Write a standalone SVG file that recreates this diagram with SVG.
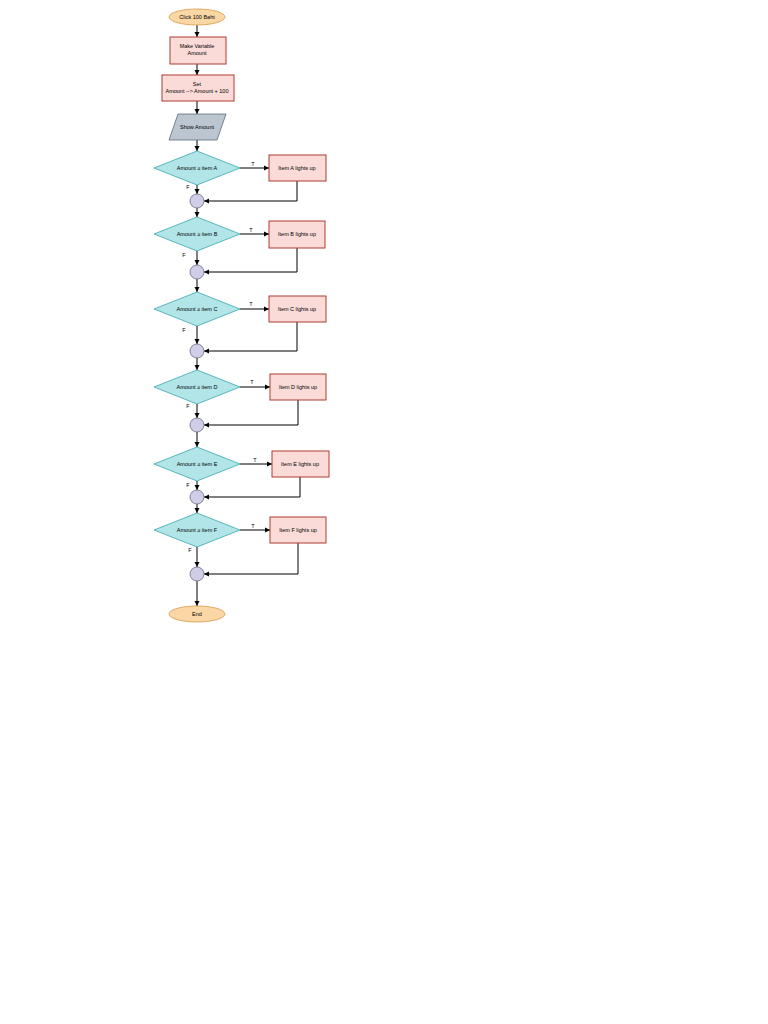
<svg xmlns="http://www.w3.org/2000/svg" width="768" height="1024" viewBox="0 0 768 1024">
<style>
text{font-family:"Liberation Sans",Arial,sans-serif;font-size:5.5px;fill:#000;text-anchor:middle}
.term{fill:#fbd7a6;stroke:#d79b4a;stroke-width:0.8}
.proc{fill:#fadbd8;stroke:#b03a2e;stroke-width:1}
.dec{fill:#b2e5e8;stroke:#3aa6ae;stroke-width:0.8}
.io{fill:#bcc6d1;stroke:#5b6b7c;stroke-width:0.8}
.jn{fill:#d0cde6;stroke:#6a6a8a;stroke-width:0.8}
.c{fill:none;stroke:#000;stroke-width:1;marker-end:url(#a)}
</style>
<defs><marker id="a" markerWidth="6" markerHeight="6" refX="5" refY="3" orient="auto" markerUnits="userSpaceOnUse"><path d="M0,0.5 L5,3 L0,5.5 z" fill="#000"/></marker></defs>
<rect width="768" height="1024" fill="#fff"/>
<g id="connectors">
<path class="c" d="M197,25 V37"/><path class="c" d="M197,64 V75"/><path class="c" d="M197,101 V114"/><path class="c" d="M197,140 V151"/>
<path class="c" d="M240,168 H269"/><path class="c" d="M197,185 V194"/><path class="c" d="M297,181 V201 H204"/><path class="c" d="M197,208 V217"/>
<path class="c" d="M240,234 H269"/><path class="c" d="M197,251 V265"/><path class="c" d="M297,248 V272 H204"/><path class="c" d="M197,279 V292"/>
<path class="c" d="M240,309 H269"/><path class="c" d="M197,326 V344"/><path class="c" d="M297,322 V351 H204"/><path class="c" d="M197,358 V370"/>
<path class="c" d="M240,387 H270"/><path class="c" d="M197,404 V418"/><path class="c" d="M298,400 V425 H204"/><path class="c" d="M197,432 V447"/>
<path class="c" d="M240,464 H272"/><path class="c" d="M197,481 V490"/><path class="c" d="M300,477 V497 H204"/><path class="c" d="M197,504 V513"/>
<path class="c" d="M240,530 H270"/><path class="c" d="M197,547 V567"/><path class="c" d="M298,543 V574 H204"/><path class="c" d="M197,581 V606"/>
<text x="253" y="166">T</text><text x="188" y="189">F</text>
<text x="251" y="232">T</text><text x="184" y="257">F</text>
<text x="251" y="306">T</text><text x="184" y="332">F</text>
<text x="252" y="384">T</text><text x="188" y="408">F</text>
<text x="255" y="462">T</text><text x="188" y="487">F</text>
<text x="253" y="528">T</text><text x="190" y="552">F</text>
</g>
<g id="start"><ellipse class="term" cx="197" cy="17" rx="28" ry="8"/><text x="197" y="19">Click 100 Baht</text></g>
<g id="makevar"><rect class="proc" x="170" y="37" width="56" height="27"/><text x="197" y="48">Make Variable</text><text x="197" y="55">Amount</text></g>
<g id="set"><rect class="proc" x="162" y="75" width="72" height="26"/><text x="197" y="86">Set</text><text x="197" y="93">Amount --&gt; Amount + 100</text></g>
<g id="show"><polygon class="io" points="178,114 226,114 217,140 169,140"/><text x="197" y="129">Show Amount</text></g>
<g id="decA"><polygon class="dec" points="197,151 240,168 197,185 154,168"/><text x="197" y="170">Amount ≥ item A</text></g>
<g id="boxA"><rect class="proc" x="269" y="155" width="57" height="26"/><text x="297" y="170">Item A lights up</text></g>
<g id="jA"><circle class="jn" cx="197" cy="201" r="7"/></g>
<g id="decB"><polygon class="dec" points="197,217 240,234 197,251 154,234"/><text x="197" y="236">Amount ≥ item B</text></g>
<g id="boxB"><rect class="proc" x="269" y="221" width="56" height="27"/><text x="297" y="236">Item B lights up</text></g>
<g id="jB"><circle class="jn" cx="197" cy="272" r="7"/></g>
<g id="decC"><polygon class="dec" points="197,292 240,309 197,326 154,309"/><text x="197" y="311">Amount ≥ item C</text></g>
<g id="boxC"><rect class="proc" x="269" y="296" width="57" height="26"/><text x="297" y="311">Item C lights up</text></g>
<g id="jC"><circle class="jn" cx="197" cy="351" r="7"/></g>
<g id="decD"><polygon class="dec" points="197,370 240,387 197,404 154,387"/><text x="197" y="389">Amount ≥ item D</text></g>
<g id="boxD"><rect class="proc" x="270" y="374" width="56" height="26"/><text x="298" y="389">Item D lights up</text></g>
<g id="jD"><circle class="jn" cx="197" cy="425" r="7"/></g>
<g id="decE"><polygon class="dec" points="197,447 240,464 197,481 154,464"/><text x="197" y="466">Amount ≥ item E</text></g>
<g id="boxE"><rect class="proc" x="272" y="451" width="57" height="26"/><text x="300" y="466">Item E lights up</text></g>
<g id="jE"><circle class="jn" cx="197" cy="497" r="7"/></g>
<g id="decF"><polygon class="dec" points="197,513 240,530 197,547 154,530"/><text x="197" y="532">Amount ≥ item F</text></g>
<g id="boxF"><rect class="proc" x="270" y="517" width="56" height="26"/><text x="298" y="532">Item F lights up</text></g>
<g id="jF"><circle class="jn" cx="197" cy="574" r="7"/></g>
<g id="end"><ellipse class="term" cx="197" cy="614" rx="28" ry="8"/><text x="197" y="616">End</text></g>
</svg>
